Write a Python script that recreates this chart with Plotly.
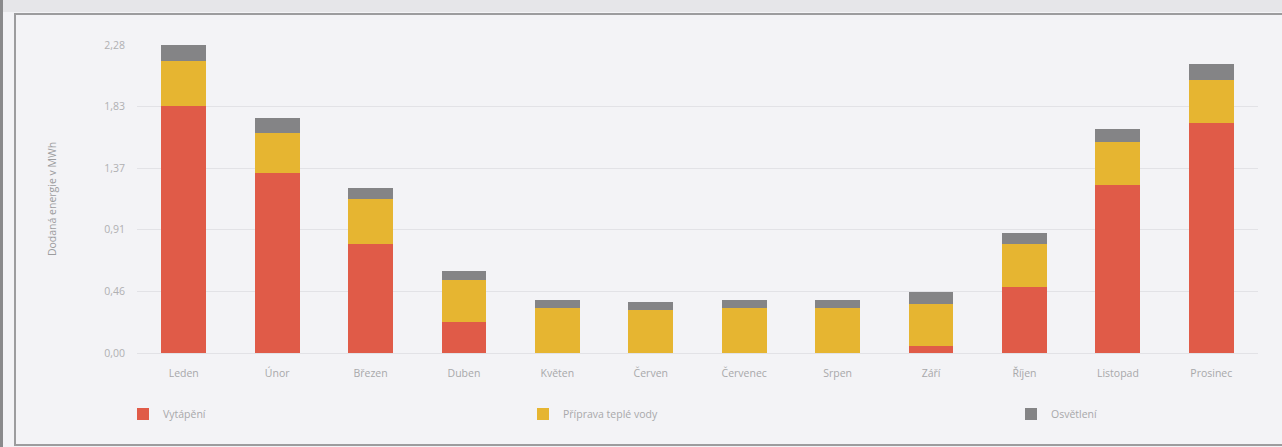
import plotly.graph_objects as go

months = ["Leden", "Únor", "Březen", "Duben", "Květen", "Červen",
          "Červenec", "Srpen", "Září", "Říjen", "Listopad", "Prosinec"]
vytapeni = [1.83, 1.33, 0.81, 0.23, 0.0, 0.0, 0.0, 0.0, 0.05, 0.49, 1.24, 1.70]
tepla_voda = [0.33, 0.30, 0.33, 0.31, 0.33, 0.32, 0.33, 0.33, 0.31, 0.32, 0.32, 0.32]
osvetleni = [0.12, 0.11, 0.08, 0.07, 0.06, 0.06, 0.06, 0.06, 0.09, 0.08, 0.10, 0.12]
y_tickvals = [0.0, 0.456, 0.912, 1.368, 1.824, 2.28]
y_ticktext = ["0,00", "0,46", "0,91", "1,37", "1,83", "2,28"]

W, H = 1282, 447
L, R, T, B = 137, 1258, 45, 353


def px(x):
    return (x - L) / (R - L)


def py(y):
    return (B - y) / (B - T)


FONT = "Open Sans"
fig = go.Figure()
series = [("Vytápění", vytapeni, "#e05b48", "legend"),
          ("Příprava teplé vody", tepla_voda, "#e6b531", "legend2"),
          ("Osvětlení", osvetleni, "#848486", "legend3")]
for name, vals, col, lg in series:
    fig.add_trace(go.Bar(x=months, y=vals, name=name, marker_color=col,
                         marker_line_width=0, legend=lg))

legend_common = dict(orientation="h", yanchor="middle", xanchor="left",
                     font=dict(family=FONT, size=10.5, color="#a8a8aa"),
                     bgcolor="rgba(0,0,0,0)", itemwidth=30)
fig.update_layout(
    barmode="stack",
    bargap=0.52,
    width=W, height=H,
    margin=dict(l=L, r=W - R, t=T, b=H - B, autoexpand=False),
    paper_bgcolor="#f3f3f6",
    plot_bgcolor="#f3f3f6",
    font=dict(family=FONT, color="#a6a6a8"),
    showlegend=True,
    legend=dict(x=px(137), y=py(414), indentation=-14, **legend_common),
    legend2=dict(x=px(523), y=py(414), **legend_common),
    legend3=dict(x=px(1011), y=py(414), **legend_common),
    xaxis=dict(showgrid=False, showline=False, ticks="",
               ticklabelstandoff=12,
               tickfont=dict(family=FONT, size=10.5, color="#a8a8aa")),
    yaxis=dict(range=[0, 2.28], tickvals=y_tickvals, ticktext=y_ticktext,
               showgrid=True, gridcolor="#e2e2e6", gridwidth=1,
               zeroline=True, zerolinecolor="#e2e2e6", zerolinewidth=1,
               tickfont=dict(family=FONT, size=10.5, color="#b0b0b2"),
               ticks="", ticklabelstandoff=11,
               title=dict(text="Dodaná energie v MWh",
                          font=dict(family=FONT, size=10.5, color="#9c9c9e"),
                          standoff=45)),
    shapes=[
        dict(type="rect", xref="paper", yref="paper",
             x0=px(-5), x1=px(1290), y0=py(-5), y1=py(12),
             fillcolor="#e6e6e9", line_width=0, layer="below"),
        dict(type="line", xref="paper", yref="paper",
             x0=px(1.5), x1=px(1.5), y0=py(0), y1=py(447),
             line=dict(color="#8a8a8c", width=3)),
        dict(type="rect", xref="paper", yref="paper",
             x0=px(15), x1=px(1290), y0=py(445), y1=py(14),
             line=dict(color="#9c9c9e", width=2)),
    ],
)

fig.write_html("out.html", config={"displayModeBar": False})
with open("out.html", encoding="utf-8") as f:
    html = f.read()
html = html.replace("<head>", "<head><style>html,body{margin:0;padding:0;overflow:hidden;}</style>", 1)
with open("out.html", "w", encoding="utf-8") as f:
    f.write(html)
